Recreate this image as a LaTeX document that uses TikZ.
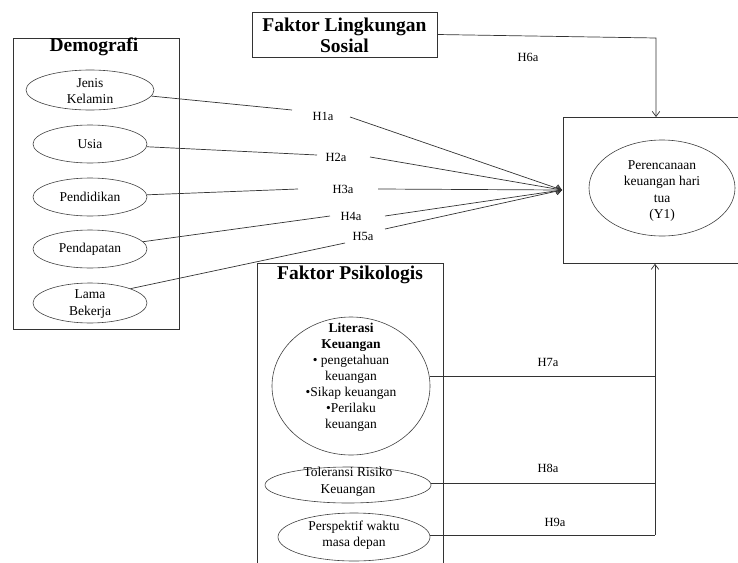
\documentclass[tikz,border=0pt]{standalone}
\usepackage{fontspec}
\setmainfont{Liberation Serif}
\usetikzlibrary{shapes.geometric,arrows.meta}
\begin{document}
\begin{tikzpicture}[x=1pt,y=-1pt,
  grp/.style={draw=black!80, line width=0.8pt, rectangle, inner sep=0pt, anchor=north west},
  ttl/.style={font=\fontsize{19.5}{21}\selectfont\bfseries, align=center, inner sep=0pt},
  ell/.style={draw=black!75, line width=0.6pt, ellipse, inner sep=0pt},
  etxt/.style={font=\fontsize{13.5}{16.5}\selectfont, align=center, inner sep=0pt},
  lab/.style={font=\fontsize{12.5}{14}\selectfont, inner sep=0pt},
  conn/.style={draw=black!80, line width=0.7pt},
  arr/.style={conn, -{Straight Barb[length=5pt,width=7.5pt]}}
]
\useasboundingbox (0,0) rectangle (738,562);
\clip (0,0) rectangle (738,562);

% Demografi group
\node[grp, minimum width=166pt, minimum height=291pt] (demo) at (13,38) {};
\node[ttl] (demot) at (94,47) {Demografi};
\node[ell, minimum width=128pt, minimum height=40pt] (jk) at (90,90) {};
\node[etxt] (jkt) at (90,91) {Jenis\\Kelamin};
\node[ell, minimum width=114pt, minimum height=38pt] (us) at (90,144) {};
\node[etxt] (ust) at (90,144) {Usia};
\node[ell, minimum width=114pt, minimum height=38pt] (pd) at (90,197) {};
\node[etxt] (pdt) at (90,197) {Pendidikan};
\node[ell, minimum width=114pt, minimum height=38pt] (pn) at (90,249) {};
\node[etxt] (pnt) at (90,249) {Pendapatan};
\node[ell, minimum width=114pt, minimum height=40pt] (lb) at (90,303) {};
\node[etxt] (lbt) at (90,304) {Lama\\Bekerja};

% Faktor Lingkungan Sosial
\node[grp, anchor=center, minimum width=185pt, minimum height=45pt] (fls) at (344.5,34.5) {};
\node[ttl] (flst) at (344.5,35) {Faktor Lingkungan\\Sosial};

% Y1 box
\node[grp, minimum width=190pt, minimum height=146pt] (ybox) at (563,117) {};
\node[ell, minimum width=146pt, minimum height=96pt] (y1) at (662,188) {};
\node[etxt] (y1t) at (662,191) {Perencanaan\\keuangan hari\\tua\\(Y1)};

% Faktor Psikologis
\node[grp, minimum width=186pt, minimum height=340pt] (psi) at (257,263) {};
\node[ttl] (psit) at (350,275) {Faktor Psikologis};
\node[ell, minimum width=158pt, minimum height=138pt] (lit) at (351,386) {};
\node[etxt, font=\fontsize{13.5}{16}\selectfont] (litt) at (351,377) {\textbf{Literasi}\\\textbf{Keuangan}\\• pengetahuan\\keuangan\\•Sikap keuangan\\•Perilaku\\keuangan};
\node[ell, minimum width=166pt, minimum height=36pt] (tol) at (348,485) {};
\node[etxt] (tolt) at (348,482) {Toleransi Risiko\\Keuangan};
\node[ell, minimum width=152pt, minimum height=48pt] (per) at (354,537) {};
\node[etxt] (pert) at (354,535) {Perspektif waktu\\masa depan};

% coordinates
\coordinate (tgt) at (562,190);
\coordinate (a1) at (292,110); \coordinate (b1) at (350,117);
\coordinate (a2) at (317,155); \coordinate (b2) at (370,157);
\coordinate (a3) at (298,189); \coordinate (b3) at (378,189);
\coordinate (a4) at (330,216); \coordinate (b4) at (385,216);
\coordinate (a5) at (345,243); \coordinate (b5) at (385,229);
\coordinate (c6) at (656,38);
\coordinate (c7) at (655,376);
\coordinate (c8) at (655,483);
\coordinate (c9) at (655,535);

% H1a-H5a
\draw[conn] (jk) -- (a1);  \draw[arr] (b1) -- (tgt);
\draw[conn] (us) -- (a2);  \draw[arr] (b2) -- (tgt);
\draw[conn] (pd) -- (a3);  \draw[arr] (b3) -- (tgt);
\draw[conn] (pn) -- (a4);  \draw[arr] (b4) -- (tgt);
\draw[conn] (lb.north east) -- (a5);  \draw[arr] (b5) -- (tgt);
\node[lab] (h1) at (323,116) {H1a};
\node[lab] (h2) at (336,157) {H2a};
\node[lab] (h3) at (343,189) {H3a};
\node[lab] (h4) at (351,216) {H4a};
\node[lab] (h5) at (363,236) {H5a};

% H6a
\draw[arr] (fls.east) -- (c6) -- (c6 |- ybox.north);
\node[lab] (h6) at (528,57) {H6a};

% H7a-H9a
\draw[conn] (lit.east |- c7) -- (c7);
\draw[conn] (tol.east |- c8) -- (c8);
\draw[conn] (per.east |- c9) -- (c9);
\draw[arr] (c9) -- (c9 |- ybox.south);
\node[lab] (h7) at (548,362) {H7a};
\node[lab] (h8) at (548,468) {H8a};
\node[lab] (h9) at (555,522) {H9a};
\end{tikzpicture}
\end{document}
